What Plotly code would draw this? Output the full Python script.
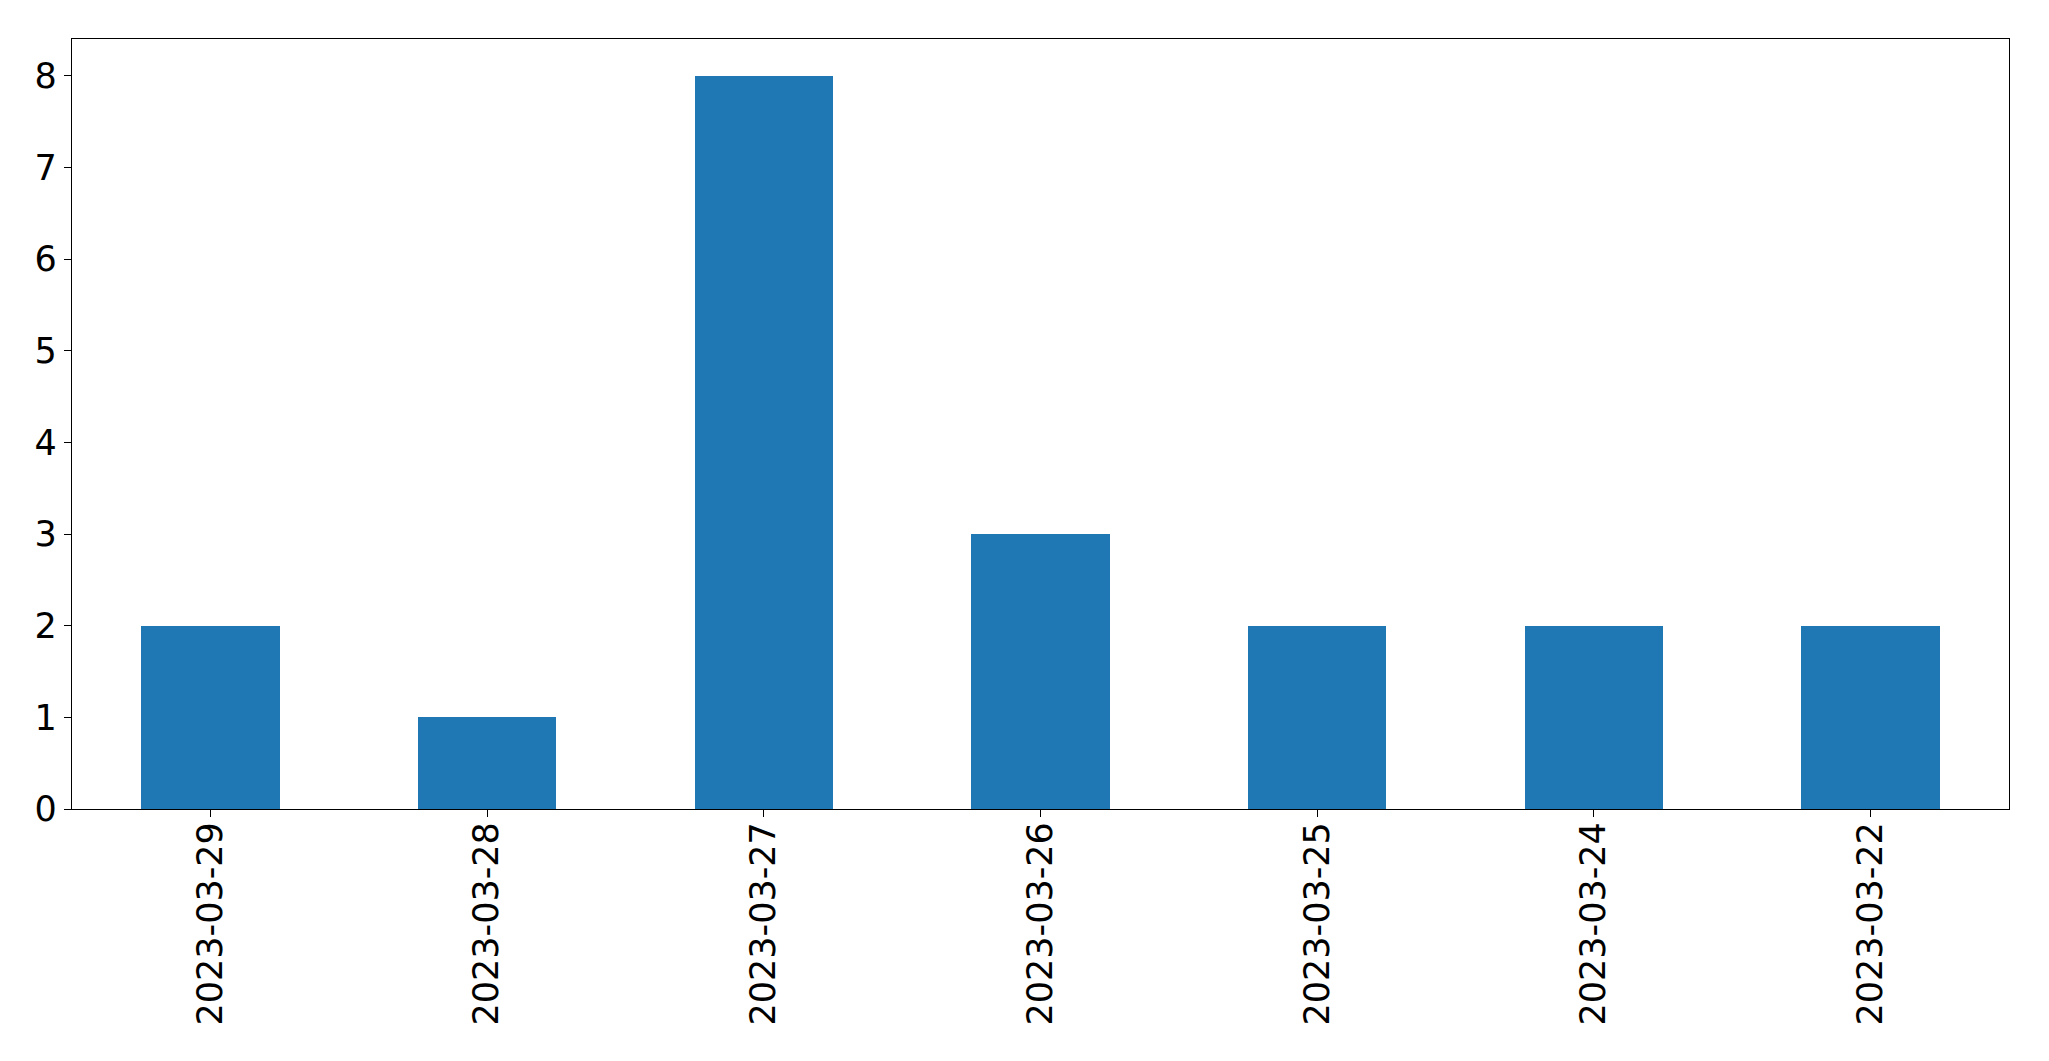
import plotly.graph_objects as go

dates = ["2023-03-29", "2023-03-28", "2023-03-27", "2023-03-26", "2023-03-25", "2023-03-24", "2023-03-22"]
counts = [2, 1, 8, 3, 2, 2, 2]
y_ticks = [0, 1, 2, 3, 4, 5, 6, 7, 8]

fig = go.Figure(go.Bar(x=dates, y=counts, width=0.5, marker=dict(color="#1f77b4", line=dict(width=0))))

font = dict(family="DejaVu Sans", size=35, color="black")
fig.update_layout(
    width=2049, height=1061, autosize=False,
    margin=dict(l=72, r=40, t=39, b=252, pad=0),
    paper_bgcolor="white", plot_bgcolor="white",
    showlegend=False, bargap=0,
)
fig.update_xaxes(
    type="category", range=[-0.5, 6.5], tickangle=-90, tickfont=font,
    showline=True, mirror=True, linecolor="black", linewidth=1.3,
    ticks="outside", ticklen=7, tickwidth=1.3, tickcolor="black",
    showgrid=False, zeroline=False, ticklabelstandoff=-9, automargin=False,
)
fig.update_yaxes(
    range=[0, 8.4], tickvals=y_ticks, tickfont=font,
    showline=True, mirror=True, linecolor="black", linewidth=1.3,
    ticks="outside", ticklen=7, tickwidth=1.3, tickcolor="black",
    showgrid=False, zeroline=False, automargin=False,
)
fig.write_html(
    "out.html",
    config={"displayModeBar": False},
    post_script="document.body.style.margin='0';document.body.style.overflow='hidden';",
)
